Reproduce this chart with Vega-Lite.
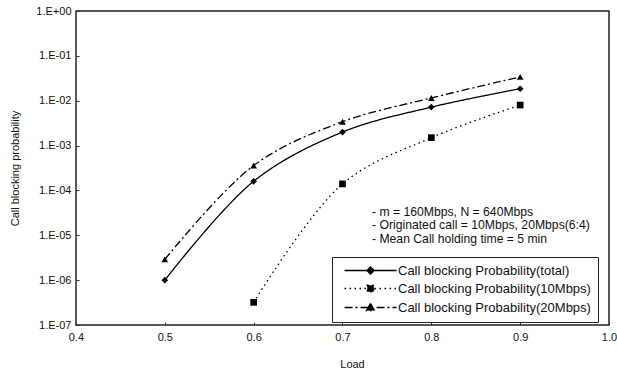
{
  "$schema": "https://vega.github.io/schema/vega-lite/v6.json",
  "width": 533,
  "height": 314,
  "autosize": {"type": "none"},
  "padding": {"left": 76, "top": 11, "right": 8, "bottom": 46},
  "background": "white",
  "config": {
    "font": "Liberation Sans",
    "view": {"stroke": "#222", "strokeWidth": 1.5},
    "axis": {"grid": false, "domain": false, "labelFont": "Liberation Sans", "labelFontSize": 11, "labelColor": "#111", "titleFont": "Liberation Sans", "titleFontSize": 11, "titleFontWeight": "normal", "titleColor": "#111", "tickColor": "#333", "tickSize": -3}
  },
  "data": {
    "values": [
      {"load": 0.5, "prob": 1.0e-6, "series": "total"},
      {"load": 0.6, "prob": 1.6e-4, "series": "total"},
      {"load": 0.7, "prob": 2.0e-3, "series": "total"},
      {"load": 0.8, "prob": 7.2e-3, "series": "total"},
      {"load": 0.9, "prob": 1.85e-2, "series": "total"},
      {"load": 0.6, "prob": 3.2e-7, "series": "10Mbps"},
      {"load": 0.7, "prob": 1.4e-4, "series": "10Mbps"},
      {"load": 0.8, "prob": 1.5e-3, "series": "10Mbps"},
      {"load": 0.9, "prob": 8.0e-3, "series": "10Mbps"},
      {"load": 0.5, "prob": 2.9e-6, "series": "20Mbps"},
      {"load": 0.6, "prob": 3.6e-4, "series": "20Mbps"},
      {"load": 0.7, "prob": 3.4e-3, "series": "20Mbps"},
      {"load": 0.8, "prob": 1.15e-2, "series": "20Mbps"},
      {"load": 0.9, "prob": 3.4e-2, "series": "20Mbps"}
    ]
  },
  "encoding": {
    "x": {"field": "load", "type": "quantitative", "title": "Load",
      "scale": {"domain": [0.4, 1.0], "nice": false, "zero": false},
      "axis": {"values": [0.4, 0.5, 0.6, 0.7, 0.8, 0.9, 1.0], "format": ".1f", "labelPadding": 9, "titlePadding": 16, "titleX": 276, "labelFlush": false}},
    "y": {"field": "prob", "type": "quantitative", "title": "Call blocking probability",
      "scale": {"type": "log", "domain": [1e-7, 1], "nice": false},
      "axis": {"values": [1e-7, 1e-6, 1e-5, 1e-4, 1e-3, 1e-2, 1e-1, 1], "labelPadding": 8, "titlePadding": 15, "labelFlush": false,
        "labelExpr": "'1.E' + (datum.value >= 0.5 ? '+00' : '-0' + format(round(-log(datum.value)/LN10), 'd'))"}}
  },
  "layer": [
    {
      "mark": {"type": "line", "interpolate": "catmull-rom", "color": "black", "strokeWidth": 1.3},
      "encoding": {
        "detail": {"field": "series"},
        "strokeDash": {"field": "series", "type": "nominal", "legend": null,
          "scale": {"domain": ["total", "10Mbps", "20Mbps"], "range": [[1, 0], [1.5, 3.5], [8, 3, 2, 3]]}}
      }
    },
    {
      "mark": {"type": "point", "filled": true, "color": "black", "size": 45, "opacity": 1},
      "encoding": {
        "shape": {"field": "series", "type": "nominal", "legend": null,
          "scale": {"domain": ["total", "10Mbps", "20Mbps"], "range": ["diamond", "square", "triangle-up"]}}
      }
    },
    {
      "transform": [{"filter": "false"}],
      "mark": {"type": "point", "filled": true, "fill": "black", "stroke": "black", "size": 100, "opacity": 1, "strokeWidth": 1.3},
      "encoding": {
        "shape": {"field": "series", "type": "nominal",
          "scale": {"domain": ["total", "10Mbps", "20Mbps"], "range": [
            "M-5.2,0L5.2,0M0,-0.7L0.7,0L0,0.7L-0.7,0Z",
            "M-5.2,0L5.2,0M-0.65,-0.65L0.65,-0.65L0.65,0.65L-0.65,0.65Z",
            "M-5.2,0L5.2,0M0,-0.8L0.8,0.6L-0.8,0.6Z"]},
          "legend": {
            "title": null, "orient": "none", "legendX": 256, "legendY": 246,
            "labelExpr": "'Call blocking Probability(' + datum.label + ')'",
            "labelFont": "Liberation Sans", "labelFontSize": 13, "labelColor": "#111", "labelLimit": 400,
            "strokeColor": "#222", "fillColor": "white", "padding": 7,
            "symbolOffset": 25, "labelOffset": 21, "rowPadding": 4,
            "encode": {"symbols": {"update": {"stroke": {"value": "black"}, "fill": {"value": "black"}, "strokeWidth": {"value": 1.3}, "opacity": {"value": 1}}}}}
        },
        "strokeDash": {"field": "series", "type": "nominal",
          "scale": {"domain": ["total", "10Mbps", "20Mbps"], "range": [[1, 0], [1.5, 3.5], [8, 3, 2, 3]]}}
      }
    },
    {
      "transform": [{"filter": "datum.load == 0.5 && datum.series == 'total'"}],
      "mark": {"type": "text", "align": "left", "baseline": "top", "font": "Liberation Sans", "fontSize": 12.2, "lineHeight": 13.5, "color": "#111",
        "text": ["- m = 160Mbps, N = 640Mbps", "- Originated call = 10Mbps, 20Mbps(6:4)", "- Mean Call holding time = 5 min"]},
      "encoding": {
        "x": {"datum": 0.7332},
        "y": {"datum": 4.5e-5}
      }
    }
  ],
  "resolve": {"scale": {"shape": "independent", "strokeDash": "independent"}}
}
